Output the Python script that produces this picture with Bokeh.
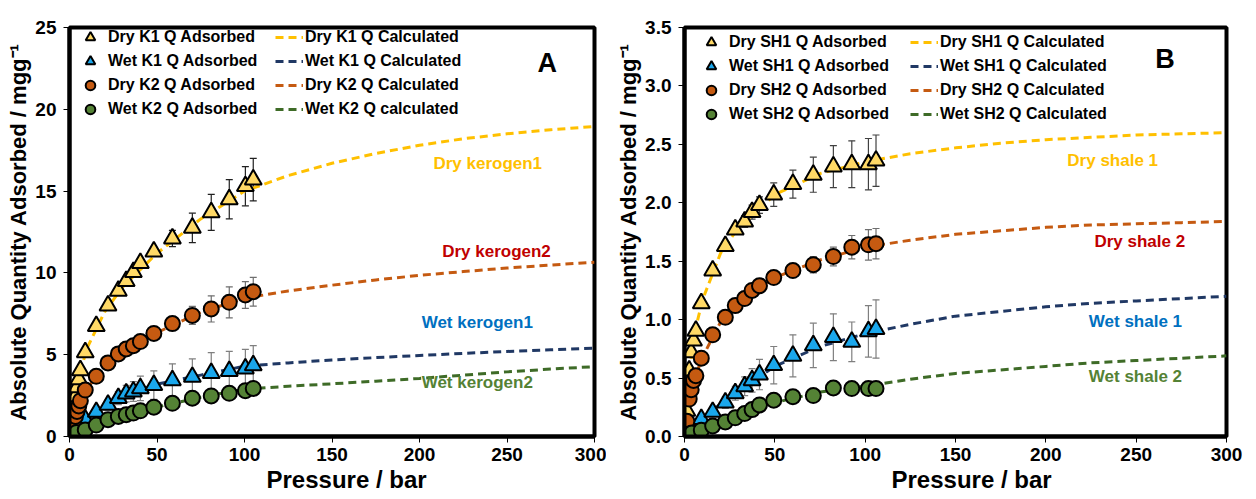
from bokeh.plotting import figure
from bokeh.models import (ColumnDataSource, Whisker, TeeHead, Legend, LegendItem,
                          Label, Title, Range1d, FixedTicker, NumeralTickFormatter)
from bokeh.layouts import row
from bokeh.embed import file_html
from bokeh.resources import INLINE

# ---------------- Panel A data (kerogen) ----------------
pA_dry = [0.3, 0.8, 1.5, 2.4, 3.4, 4.3, 5.3, 6.2, 9, 15.3, 22, 27.9, 32.4, 36.5, 40.5, 48.2, 58.8, 70.2, 81, 91.3, 100.5, 105]
dry_k1 = [0.3, 0.9, 1.4, 1.9, 2.45, 3.0, 3.5, 4.05, 5.15, 6.75, 8.0, 8.9, 9.5, 10.05, 10.6, 11.3, 12.1, 12.75, 13.7, 14.5, 15.3, 15.7]
dry_k1_err = [0, 0, 0, 0, 0, 0, 0, 0, 0.1, 0.15, 0.15, 0.15, 0.2, 0.2, 0.2, 0.25, 0.5, 0.9, 1.1, 1.2, 1.2, 1.3]
dry_k2 = [0.15, 0.3, 0.52, 0.87, 1.23, 1.53, 1.87, 2.19, 2.84, 3.68, 4.5, 5.05, 5.35, 5.55, 5.8, 6.3, 6.9, 7.4, 7.8, 8.2, 8.65, 8.85]
dry_k2_err = [0, 0, 0, 0, 0, 0, 0, 0, 0.1, 0.1, 0.1, 0.15, 0.15, 0.15, 0.2, 0.2, 0.3, 0.55, 0.8, 0.95, 0.82, 0.88]
pA_wet = [0.3, 0.8, 1.5, 2.5, 4, 9, 15.3, 22, 27.9, 32.4, 36.5, 40.5, 48.2, 58.8, 70.2, 81, 91.3, 100.5, 105]
wet_k1 = [0.05, 0.1, 0.2, 0.3, 0.5, 1.03, 1.5, 1.93, 2.35, 2.62, 2.75, 2.94, 3.14, 3.44, 3.64, 3.88, 4.0, 4.15, 4.35]
wet_k1_err = [0, 0, 0, 0, 0, 0.1, 0.2, 0.3, 0.4, 0.5, 0.6, 0.75, 0.87, 1.0, 1.1, 1.25, 1.2, 1.18, 1.2]
wet_k2 = [0.03, 0.06, 0.1, 0.15, 0.25, 0.4, 0.7, 1.03, 1.23, 1.33, 1.43, 1.57, 1.79, 2.03, 2.34, 2.48, 2.64, 2.8, 2.94]
wet_k2_err = [0, 0, 0, 0, 0, 0.03, 0.05, 0.05, 0.08, 0.08, 0.1, 0.1, 0.12, 0.15, 0.2, 0.25, 0.3, 0.3, 0.3]

pA_calc = [0, 2, 5, 10, 20, 30, 50, 75, 100, 125, 150, 175, 200, 225, 250, 275, 300]
dry_k1_calc = [0, 1.8, 3.5, 5.4, 7.6, 9.1, 11.2, 13.3, 15.0, 15.95, 16.7, 17.3, 17.8, 18.2, 18.5, 18.75, 18.95]
dry_k2_calc = [0, 0.75, 1.75, 2.95, 4.2, 5.15, 6.35, 7.6, 8.45, 8.9, 9.25, 9.57, 9.85, 10.08, 10.3, 10.48, 10.65]
wet_k1_calc = [0, 0.25, 0.55, 1.05, 1.85, 2.45, 3.2, 3.75, 4.3, 4.5, 4.68, 4.82, 4.95, 5.08, 5.2, 5.3, 5.4]
wet_k2_calc = [0, 0.1, 0.25, 0.45, 0.95, 1.25, 1.8, 2.4, 2.9, 3.07, 3.22, 3.38, 3.55, 3.75, 3.95, 4.12, 4.27]

# ---------------- Panel B data (shale) ----------------
pB_dry = [0.3, 1.3, 2.6, 3.7, 5, 6.3, 9.3, 15.6, 22.6, 28.1, 33.3, 37.4, 41.5, 49.4, 60, 71.3, 82.4, 92.6, 101.8, 106]
dry_sh1 = [0.05, 0.22, 0.565, 0.72, 0.82, 0.905, 1.14, 1.42, 1.63, 1.77, 1.84, 1.92, 1.98, 2.07, 2.16, 2.24, 2.31, 2.33, 2.33, 2.36]
dry_sh1_err = [0, 0, 0, 0, 0, 0, 0.02, 0.02, 0.03, 0.04, 0.05, 0.06, 0.07, 0.1, 0.12, 0.15, 0.18, 0.2, 0.22, 0.22]
dry_sh2 = [0.03, 0.13, 0.32, 0.40, 0.48, 0.52, 0.67, 0.87, 1.02, 1.12, 1.18, 1.25, 1.29, 1.36, 1.42, 1.47, 1.54, 1.62, 1.64, 1.65]
dry_sh2_err = [0, 0, 0, 0, 0, 0, 0.02, 0.02, 0.03, 0.03, 0.04, 0.04, 0.05, 0.05, 0.06, 0.07, 0.08, 0.1, 0.13, 0.13]
pB_wet = [0.3, 1, 2, 4, 9.3, 15.6, 22.6, 28.1, 33.3, 37.4, 41.5, 49.4, 60, 71.3, 82.4, 92.6, 101.8, 106]
wet_sh1 = [0.01, 0.02, 0.04, 0.08, 0.15, 0.21, 0.29, 0.37, 0.43, 0.48, 0.53, 0.61, 0.69, 0.78, 0.85, 0.81, 0.90, 0.92]
wet_sh1_err = [0, 0, 0, 0, 0.02, 0.03, 0.05, 0.06, 0.08, 0.1, 0.13, 0.16, 0.18, 0.19, 0.2, 0.17, 0.22, 0.25]
wet_sh2 = [0.005, 0.01, 0.02, 0.03, 0.054, 0.09, 0.125, 0.16, 0.196, 0.23, 0.27, 0.31, 0.34, 0.35, 0.415, 0.41, 0.41, 0.41]
wet_sh2_err = [0, 0, 0, 0, 0.01, 0.01, 0.02, 0.02, 0.02, 0.02, 0.03, 0.03, 0.03, 0.04, 0.05, 0.05, 0.05, 0.05]

pB_calc = [0, 2, 5, 10, 20, 30, 50, 75, 100, 125, 150, 175, 200, 225, 250, 275, 300]
dry_sh1_calc = [0, 0.45, 0.85, 1.17, 1.57, 1.79, 2.07, 2.25, 2.35, 2.42, 2.47, 2.51, 2.54, 2.56, 2.58, 2.59, 2.6]
dry_sh2_calc = [0, 0.25, 0.47, 0.68, 0.98, 1.14, 1.36, 1.51, 1.62, 1.68, 1.73, 1.76, 1.79, 1.81, 1.82, 1.83, 1.84]
wet_sh1_calc = [0, 0.03, 0.07, 0.15, 0.28, 0.39, 0.6, 0.77, 0.88, 0.96, 1.03, 1.07, 1.11, 1.14, 1.16, 1.18, 1.2]
wet_sh2_calc = [0, 0.01, 0.03, 0.06, 0.12, 0.18, 0.29, 0.38, 0.43, 0.49, 0.54, 0.57, 0.6, 0.63, 0.65, 0.67, 0.69]

FONT = "Liberation Sans"
C_YEL_FILL = "#FFD966"
C_YEL_LINE = "#FFC000"
C_BLUE_FILL = "#1AA7EC"
C_NAVY = "#203864"
C_ORANGE = "#C55A11"
C_GREEN = "#548235"
C_GREEN_LINE = "#3E6B27"


def make_panel(width, height, mb_left, mb_right, mb_top, mb_bottom, ymax, yticks, yfmt,
               series, calcs, legend_pos1, legend_pos2, labels, letter, xlabel_offset):
    p = figure(width=width, height=height, output_backend="svg", toolbar_location=None,
               x_range=Range1d(0, 300), y_range=Range1d(0, ymax),
               min_border_left=mb_left, min_border_right=mb_right,
               min_border_top=mb_top, min_border_bottom=mb_bottom,
               background_fill_color="white", border_fill_color="white")
    p.grid.visible = False
    p.outline_line_color = "black"
    p.outline_line_width = 4
    for ax in (p.xaxis[0], p.yaxis[0]):
        ax.axis_line_width = 4
        ax.axis_line_color = "black"
        ax.major_tick_line_width = 1
        ax.major_tick_line_color = "black"
        ax.major_tick_out = 6
        ax.major_tick_in = 0
        ax.minor_tick_line_color = None
        ax.major_label_text_font = FONT
        ax.major_label_text_font_style = "bold"
        ax.major_label_text_font_size = "19px"
        ax.major_label_text_color = "black"
        ax.axis_label_text_font = FONT
        ax.axis_label_text_font_style = "bold"
        ax.axis_label_text_color = "black"
    p.xaxis.ticker = FixedTicker(ticks=[0, 50, 100, 150, 200, 250, 300])
    p.yaxis.ticker = FixedTicker(ticks=yticks)
    p.yaxis.formatter = NumeralTickFormatter(format=yfmt)
    p.xaxis.major_label_standoff = 5
    p.yaxis.major_label_standoff = 7
    p.yaxis.axis_label = "Absolute Quantity Adsorbed / mgg\u207b\u00b9"
    p.yaxis.axis_label_text_font_size = "22px"
    p.yaxis.axis_label_standoff = 1

    # x axis title, placed as in the reference (slightly right of centre)
    p.add_layout(Title(text="Pressure / bar", align="left", offset=xlabel_offset,
                       text_font=FONT, text_font_style="bold", text_font_size="24px",
                       text_color="black", standoff=0), "below")

    # calculated dashed curves
    calc_items = []
    for (lbl, px, py, col) in calcs:
        r = p.line(px, py, line_color=col, line_width=3, line_dash="8 5")
        calc_items.append(LegendItem(label=lbl, renderers=[r]))

    # error bars + markers
    mark_items = []
    for (lbl, px, py, err, marker, fill, ecol) in series:
        src = ColumnDataSource(dict(x=px, y=py,
                                    lo=[a - b for a, b in zip(py, err)],
                                    hi=[a + b for a, b in zip(py, err)]))
        w = Whisker(source=src, base="x", lower="lo", upper="hi", dimension="height",
                    line_color=ecol, line_width=1.2, level="underlay",
                    upper_head=TeeHead(size=7, line_color=ecol, line_width=1.2),
                    lower_head=TeeHead(size=7, line_color=ecol, line_width=1.2))
        p.add_layout(w)
        size = 17 if marker == "triangle" else 15
        r = p.scatter("x", "y", source=src, marker=marker, size=size, fill_color=fill,
                      line_color="black", line_width=2)
        mark_items.append(LegendItem(label=lbl, renderers=[r]))

    common = dict(border_line_alpha=0, background_fill_alpha=0, padding=0, margin=0,
                  spacing=0, label_text_font=FONT, label_text_font_style="bold",
                  label_text_font_size="16px", label_text_color="black",
                  glyph_height=24, label_height=24)
    leg1 = Legend(items=mark_items, location=legend_pos1, glyph_width=26,
                  label_standoff=5, **common)
    leg2 = Legend(items=calc_items, location=legend_pos2, glyph_width=28,
                  label_standoff=2, **common)
    p.add_layout(leg1, "center")
    p.add_layout(leg2, "center")

    for (txt, x, y, col) in labels:
        p.add_layout(Label(x=x, y=y, text=txt, text_color=col, text_font=FONT,
                           text_font_style="bold", text_font_size="17px",
                           text_align="center", text_baseline="middle"))
    p.add_layout(Label(x=letter[1], y=letter[2], text=letter[0], text_color="black",
                       text_font=FONT, text_font_style="bold", text_font_size="27px",
                       text_align="center", text_baseline="middle"))
    return p


pA = make_panel(
    606, 499, 69, 12, 23, 63, 25, [0, 5, 10, 15, 20, 25], "0",
    series=[
        ("Dry K1 Q Adsorbed", pA_dry, dry_k1, dry_k1_err, "triangle", C_YEL_FILL, "#202020"),
        ("Wet K1 Q Adsorbed", pA_wet, wet_k1, wet_k1_err, "triangle", C_BLUE_FILL, "#7F7F7F"),
        ("Dry K2 Q Adsorbed", pA_dry, dry_k2, dry_k2_err, "circle", C_ORANGE, "#6F6F6F"),
        ("Wet K2 Q Adsorbed", pA_wet, wet_k2, wet_k2_err, "circle", C_GREEN, "#7F7F7F"),
    ],
    calcs=[
        ("Dry K1 Q Calculated", pA_calc, dry_k1_calc, C_YEL_LINE),
        ("Wet K1 Q Calculated", pA_calc, wet_k1_calc, C_NAVY),
        ("Dry K2 Q Calculated", pA_calc, dry_k2_calc, C_ORANGE),
        ("Wet K2 Q calculated", pA_calc, wet_k2_calc, C_GREEN_LINE),
    ],
    legend_pos1=(8, 315), legend_pos2=(206, 315),
    labels=[
        ("Dry kerogen1", 239, 16.7, C_YEL_LINE),
        ("Dry kerogen2", 244, 11.3, "#C00000"),
        ("Wet kerogen1", 233, 6.98, "#0070C0"),
        ("Wet kerogen2", 233, 3.29, C_GREEN),
    ],
    letter=("A", 273, 22.8),
    xlabel_offset=197,
)

pB = make_panel(
    650, 499, 78, 30, 27, 62, 3.5, [0, 0.5, 1.0, 1.5, 2.0, 2.5, 3.0, 3.5], "0.0",
    series=[
        ("Dry SH1 Q Adsorbed", pB_dry, dry_sh1, dry_sh1_err, "triangle", C_YEL_FILL, "#404040"),
        ("Wet SH1 Q Adsorbed", pB_wet, wet_sh1, wet_sh1_err, "triangle", C_BLUE_FILL, "#7F7F7F"),
        ("Dry SH2 Q Adsorbed", pB_dry, dry_sh2, dry_sh2_err, "circle", C_ORANGE, "#6F6F6F"),
        ("Wet SH2 Q Adsorbed", pB_wet, wet_sh2, wet_sh2_err, "circle", C_GREEN, "#7F7F7F"),
    ],
    calcs=[
        ("Dry SH1 Q Calculated", pB_calc, dry_sh1_calc, C_YEL_LINE),
        ("Wet SH1 Q Calculated", pB_calc, wet_sh1_calc, C_NAVY),
        ("Dry SH2 Q Calculated", pB_calc, dry_sh2_calc, C_ORANGE),
        ("Wet SH2 Q Calculated", pB_calc, wet_sh2_calc, C_GREEN_LINE),
    ],
    legend_pos1=(14, 310), legend_pos2=(226, 310),
    labels=[
        ("Dry shale 1", 237, 2.36, C_YEL_LINE),
        ("Dry shale 2", 252, 1.67, "#C00000"),
        ("Wet shale 1", 249.6, 0.98, "#0070C0"),
        ("Wet shale 2", 249.6, 0.51, C_GREEN),
    ],
    letter=("B", 266, 3.23),
    xlabel_offset=207,
)

layout = row(pA, pB)
open("out.html", "w").write(file_html(layout, INLINE))
